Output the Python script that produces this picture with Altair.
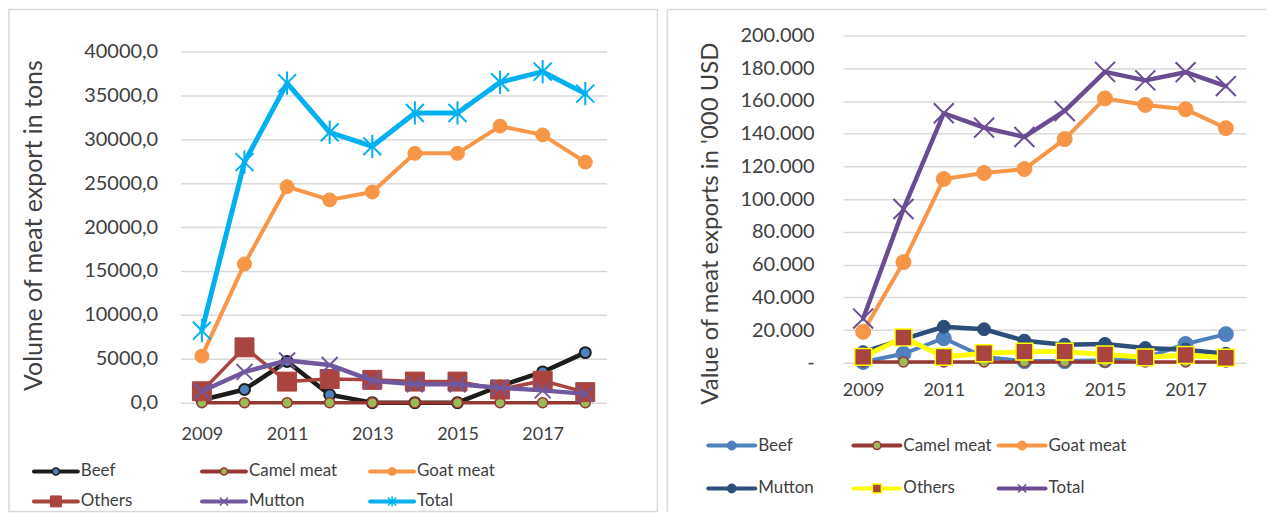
import altair as alt
import pandas as pd

# ---------------- data ----------------
years = [2009, 2010, 2011, 2012, 2013, 2014, 2015, 2016, 2017, 2018]

# Left panel: volume of meat export (tons)
vol_names = ["Beef", "Camel meat", "Goat meat", "Others", "Mutton", "Total"]
vol_beef = [300, 1500, 4700, 900, 0, 0, 0, 1900, 3500, 5700]
vol_camel = [0, 0, 0, 0, 0, 0, 0, 0, 0, 0]
vol_goat = [5300, 15800, 24600, 23100, 24000, 28400, 28400, 31500, 30500, 27400]
vol_others = [1300, 6300, 2400, 2700, 2600, 2400, 2400, 1500, 2500, 1200]
vol_mutton = [1300, 3500, 4800, 4300, 2500, 2100, 2100, 1700, 1400, 1000]
vol_total = [8200, 27400, 36400, 30800, 29200, 33000, 33000, 36500, 37700, 35200]

# Right panel: value of meat exports ('000 USD)
val_names = ["Beef", "Camel meat", "Goat meat", "Mutton", "Others", "Total"]
val_beef = [500, 5500, 15000, 3500, 1000, 1000, 1500, 3000, 11500, 17500]
val_camel = [500, 500, 500, 500, 500, 500, 500, 500, 500, 500]
val_goat = [18900, 61500, 112300, 116000, 118400, 136700, 161600, 157600, 154900, 143400]
val_mutton = [6500, 14500, 22000, 20500, 13500, 11000, 11500, 9000, 8000, 5500]
val_others = [3600, 15500, 3600, 5800, 6800, 6800, 5100, 3300, 4700, 3000]
val_total = [27000, 94000, 152500, 143700, 138000, 153900, 177800, 172600, 177600, 169100]

vol_ticks = [0, 5000, 10000, 15000, 20000, 25000, 30000, 35000, 40000]
val_ticks = [0, 20000, 40000, 60000, 80000, 100000, 120000, 140000, 160000, 180000, 200000]
year_ticks = [2009, 2011, 2013, 2015, 2017]

# ---------------- style ----------------
FONT = "Lato"
TXT = "#404040"
GRID = "#D9D9D9"
XSHAPE = "M-1,-1L1,1M-1,1L1,-1"
ASTER = "M-1,-1L1,1M-1,1L1,-1M0,-1.3L0,1.3"


def mk(shape, size, fill, stroke, sw):
    return dict(shape=shape, size=size, fill=fill, stroke=stroke, sw=sw)


vol_style = {
    "Beef": dict(line="#1E1C1A", lw=4.5,
                 m=[mk("circle", 121, "#4F81BD", "#1E1C1A", 2)],
                 lm=[mk("circle", 49, "#4F81BD", "#1E1C1A", 1.5)]),
    "Camel meat": dict(line="#953735", lw=3.5,
                       m=[mk("circle", 100, "#9BBB59", "#953735", 1.5)],
                       lm=[mk("circle", 49, "#9BBB59", "#953735", 1.5)]),
    "Goat meat": dict(line="#F79646", lw=4,
                      m=[mk("circle", 196, "#F79646", "#F79646", 1)],
                      lm=[mk("circle", 64, "#F79646", "#F79646", 1)]),
    "Others": dict(line="#A9443F", lw=3.5,
                   m=[mk("square", 361, "#A9443F", "#A9443F", 1)],
                   lm=[mk("square", 121, "#A9443F", "#A9443F", 1)]),
    "Mutton": dict(line="#71589D", lw=4.5,
                   m=[mk(XSHAPE, 256, None, "#71589D", 2)],
                   lm=[mk(XSHAPE, 64, None, "#71589D", 1.5)]),
    "Total": dict(line="#00B0F0", lw=5,
                  m=[mk(ASTER, 324, None, "#00B0F0", 2)],
                  lm=[mk(ASTER, 64, None, "#00B0F0", 1.5)]),
}

val_style = {
    "Beef": dict(line="#4F81BD", lw=4,
                 m=[mk("circle", 225, "#4F81BD", "#4F81BD", 1)],
                 lm=[mk("circle", 81, "#4F81BD", "#4F81BD", 1)]),
    "Camel meat": dict(line="#953735", lw=3.5,
                       m=[mk("circle", 100, "#9BBB59", "#953735", 1.5)],
                       lm=[mk("circle", 64, "#9BBB59", "#953735", 1.5)]),
    "Goat meat": dict(line="#F79646", lw=4,
                      m=[mk("circle", 225, "#F79646", "#F79646", 1)],
                      lm=[mk("circle", 81, "#F79646", "#F79646", 1)]),
    "Mutton": dict(line="#2C4E78", lw=4.5,
                   m=[mk("circle", 169, "#2C4E78", "#2C4E78", 1)],
                   lm=[mk("circle", 81, "#2C4E78", "#2C4E78", 1)]),
    "Others": dict(line="#FFFF00", lw=5,
                   m=[mk("square", 289, "#A9443F", "#FFFF00", 1.5)],
                   lm=[mk("square", 81, "#A9443F", "#FFFF00", 1.5)]),
    "Total": dict(line="#6A4C93", lw=4.5,
                  m=[mk(XSHAPE, 400, None, "#6A4C93", 2)],
                  lm=[mk(XSHAPE, 64, None, "#6A4C93", 1.5)]),
}


def long_df(names, cols):
    rows = []
    for n, vals in zip(names, cols):
        for yr, v in zip(years, vals):
            rows.append({"year": yr, "series": n, "value": v})
    return pd.DataFrame(rows)


def legend_df(names):
    return pd.DataFrame({
        "label": names,
        "col": [i % 3 for i in range(len(names))],
        "row": [i // 3 for i in range(len(names))],
    })


def point_props(m):
    p = dict(shape=m["shape"], size=m["size"], opacity=1,
             stroke=m["stroke"], strokeWidth=m["sw"])
    if m["fill"]:
        p.update(filled=True, fill=m["fill"])
    else:
        p.update(filled=False)
    return p


def panel(df, names, styles, x_enc, y_enc, ldf, lx_range, ly_range, leg_len,
          frames, w, h):
    base = alt.Chart(df)
    layers = []
    for n in names:
        st = styles[n]
        sub = base.transform_filter(alt.datum.series == n)
        layers.append(sub.mark_line(color=st["line"], strokeWidth=st["lw"],
                                    strokeJoin="round", strokeCap="round")
                      .encode(x=x_enc, y=y_enc))
        for m in st["m"]:
            layers.append(sub.mark_point(**point_props(m)).encode(x=x_enc, y=y_enc))
    data_group = alt.layer(*layers)

    lx = alt.X("col:Q", scale=alt.Scale(domain=[0, 2], range=lx_range), axis=None)
    ly = alt.Y("row:Q", scale=alt.Scale(domain=[0, 1], range=ly_range), axis=None)
    lbase = alt.Chart(ldf)
    llayers = []
    for n in names:
        st = styles[n]
        sub = lbase.transform_filter(alt.datum.label == n)
        llayers.append(sub.mark_rule(color=st["line"], strokeWidth=4,
                                     strokeCap="round", x2Offset=leg_len)
                       .encode(x=lx, x2=alt.X2("col:Q"), y=ly))
        for m in st["lm"]:
            llayers.append(sub.mark_point(xOffset=leg_len / 2, **point_props(m))
                           .encode(x=lx, y=ly))
    llayers.append(lbase.mark_text(align="left", baseline="middle", dx=leg_len + 3,
                                   font=FONT, fontSize=17, color=TXT)
                   .encode(x=lx, y=ly, text="label:N"))
    legend_group = alt.layer(*llayers)

    return (alt.layer(*frames, data_group, legend_group)
            .resolve_scale(x="independent", y="independent")
            .properties(width=w, height=h))


def x_axis(pad):
    return alt.Axis(values=year_ticks, format="d", grid=False, domain=False,
                    ticks=False, labelPadding=pad, labelFont=FONT,
                    labelFontSize=18, labelColor=TXT, title=None, labelFlush=False)


one = alt.Data(values=[{}])

# ---------------- left panel ----------------
# plot origin shared with the right panel (row alignment); the value range
# starts 16px below the top of the panel's view
LW, LH = 427, 368
left_x = alt.X("year:Q", scale=alt.Scale(domain=[2008.5, 2018.5], nice=False, zero=False),
               axis=x_axis(23))
left_y = alt.Y("value:Q", scale=alt.Scale(domain=[0, 40000], nice=False, range=[LH, 16]),
               axis=alt.Axis(values=vol_ticks,
                             labelExpr="replace(format(datum.value, '.1f'), '.', ',')",
                             grid=True, gridColor=GRID, gridWidth=1.5, domain=False,
                             ticks=False, labelPadding=23, labelFont=FONT,
                             labelFontSize=20, labelColor=TXT,
                             title="Volume of meat export in tons", titleFont=FONT,
                             titleFontSize=25, titleFontWeight="normal",
                             titleColor=TXT, titleX=-147, titleY=190,
                             titleBaseline="middle"))
left_frames = [
    alt.Chart(one).mark_rect(filled=False, color="#D9D9D9", strokeWidth=1.5)
    .encode(x=alt.value(-172), x2=alt.value(478), y=alt.value(-26), y2=alt.value(477))
]
left = panel(long_df(vol_names, [vol_beef, vol_camel, vol_goat, vol_others, vol_mutton, vol_total]),
             vol_names, vol_style, left_x, left_y, legend_df(vol_names),
             [-147, 190], [437, 467], 44, left_frames, LW, LH)

# ---------------- right panel ----------------
RW, RH = 404, 328
right_x = alt.X("year:Q", scale=alt.Scale(domain=[2008.5, 2018.5], nice=False, zero=False),
                axis=x_axis(19))
right_y = alt.Y("value:Q", scale=alt.Scale(domain=[0, 200000], nice=False),
                axis=alt.Axis(values=val_ticks,
                              labelExpr="datum.value == 0 ? '-\u00a0\u00a0\u00a0' : replace(format(datum.value, ','), ',', '.')",
                              grid=True, gridColor=GRID, gridWidth=1.5, domain=False,
                              ticks=False, labelPadding=29, labelFont=FONT,
                              labelFontSize=20, labelColor=TXT,
                              title="Value of meat exports in '000 USD", titleFont=FONT,
                              titleFontSize=24, titleFontWeight="normal",
                              titleColor=TXT, titleX=-133, titleY=188,
                              titleBaseline="middle"))
right_frames = [
    alt.Chart(one).mark_rule(color="#D9D9D9", strokeWidth=1.5)
    .encode(x=alt.value(-176), x2=alt.value(424), y=alt.value(-26)),
    alt.Chart(one).mark_rule(color="#D9D9D9", strokeWidth=1.5)
    .encode(x=alt.value(-176), y=alt.value(-26), y2=alt.value(477)),
]
right = panel(long_df(val_names, [val_beef, val_camel, val_goat, val_mutton, val_others, val_total]),
              val_names, val_style, right_x, right_y, legend_df(val_names),
              [-135, 156], [411, 454], 47, right_frames, RW, RH)

chart = (alt.hconcat(left, right, spacing=8)
         .properties(padding=0)
         .configure_view(stroke=None))

chart.save("out.html", embed_options={"renderer": "svg", "actions": False})
